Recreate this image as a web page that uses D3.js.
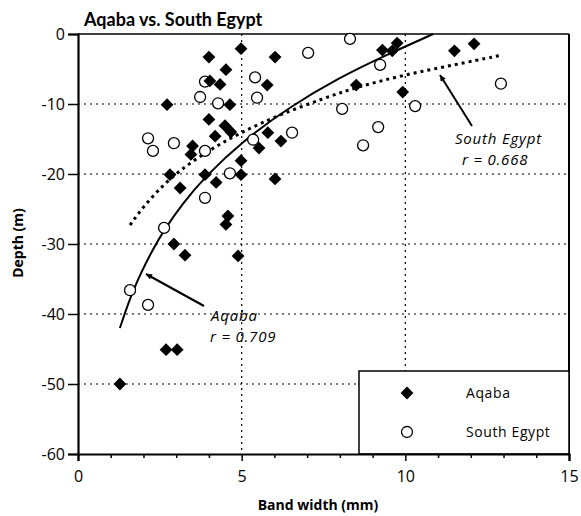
<!DOCTYPE html>
<html>
<head>
<meta charset="utf-8">
<script src="https://cdn.jsdelivr.net/npm/d3@7"></script>
<style>
  body { margin: 0; background: #fff; }
  text { font-family: "Open Sans", sans-serif; fill: #000; }
</style>
</head>
<body>
<svg width="581" height="516"></svg>
<script>
// data: [band width (mm), depth (m)]
var aqaba = [
  [4.98, -2.1], [4.0, -3.3], [6.02, -3.3], [4.52, -5.1], [4.03, -6.7],
  [4.34, -7.2], [5.78, -7.3], [2.72, -10.1], [4.64, -10.1], [4.0, -12.2],
  [4.49, -13.1], [4.67, -14.0], [4.19, -14.6], [3.5, -16.0], [3.45, -17.2],
  [4.98, -18.1], [5.8, -14.1], [5.53, -16.3], [6.2, -15.3], [8.5, -7.3],
  [9.92, -8.3], [9.3, -2.3], [9.6, -2.4], [9.75, -1.3], [11.5, -2.4],
  [12.1, -1.4], [2.81, -20.1], [3.88, -20.1], [4.98, -20.1], [3.12, -22.0],
  [4.22, -21.2], [4.58, -26.0], [4.52, -27.2], [2.93, -30.0], [3.27, -31.6],
  [4.89, -31.7], [6.02, -20.7], [2.69, -45.1], [3.03, -45.1], [1.28, -50.0]
];

var southEgypt = [
  [8.31, -0.7], [7.03, -2.7], [5.41, -6.2], [5.47, -9.1], [9.23, -4.4],
  [8.07, -10.7], [9.17, -13.3], [8.71, -15.9], [6.54, -14.1], [10.3, -10.3],
  [12.92, -7.1], [3.73, -9.0], [4.28, -9.9], [3.88, -6.8], [2.14, -14.9],
  [2.29, -16.7], [2.93, -15.6], [3.88, -16.7], [4.64, -19.9], [3.88, -23.4],
  [2.63, -27.7], [2.14, -38.7], [1.59, -36.6], [5.35, -15.1]
];

// fitted curves
var aqabaFit = [
  [1.28, -42], [1.68, -36.4], [2.3, -30.6], [2.63, -28], [3.2, -24.2],
  [3.88, -20.4], [5, -15.4], [6.5, -10.3], [8, -6.2], [9.23, -3.4], [10.85, 0]
];
var egyptFit = [
  [1.59, -27.3], [2.0, -24.6], [2.87, -20.2], [4, -16.6], [5, -14],
  [6.17, -11.5], [7.5, -9.2], [8.5, -7.6], [10, -5.8], [11.5, -4.4], [12.86, -3.1]
];

var xTicks = [0, 5, 10, 15],
    xMinor = [1, 2, 3, 4, 6, 7, 8, 9, 11, 12, 13, 14],
    yTicks = [0, -10, -20, -30, -40, -50, -60],
    xGrid = [5, 10],
    yGrid = [-10, -20, -30, -40, -50];

var svg = d3.select("svg");

var x = d3.scaleLinear().domain([0, 15]).range([78, 569]),
    y = d3.scaleLinear().domain([-60, 0]).range([454, 34]);

// grid lines
svg.append("g").selectAll("line")
    .data(yGrid)
    .enter().append("line")
    .attr("x1", x(0)).attr("x2", x(15))
    .attr("y1", function(d) { return y(d); })
    .attr("y2", function(d) { return y(d); })
    .attr("stroke", "#000").attr("stroke-width", 1.2)
    .attr("stroke-dasharray", "2,4");

svg.append("g").selectAll("line")
    .data(xGrid)
    .enter().append("line")
    .attr("x1", function(d) { return x(d); })
    .attr("x2", function(d) { return x(d); })
    .attr("y1", y(0)).attr("y2", y(-60))
    .attr("stroke", "#000").attr("stroke-width", 1.2)
    .attr("stroke-dasharray", "2,4");

// frame top and right
svg.append("line")
    .attr("x1", x(0)).attr("x2", x(15)).attr("y1", y(0)).attr("y2", y(0))
    .attr("stroke", "#000").attr("stroke-width", 1.5);
svg.append("line")
    .attr("x1", x(15)).attr("x2", x(15)).attr("y1", y(0)).attr("y2", y(-60))
    .attr("stroke", "#000").attr("stroke-width", 2);

// legend box (drawn before points, covers grid)
var legend = svg.append("g");
legend.append("rect")
    .attr("x", 359).attr("y", 371).attr("width", x(15) - 359).attr("height", y(-60) - 371)
    .attr("fill", "#fff").attr("stroke", "#000").attr("stroke-width", 1.5);

// axes
var fmt = function(d) { return String(d); };   // plain hyphen minus, as printed

svg.append("g")
    .attr("transform", "translate(0," + y(-60) + ")")
    .call(d3.axisBottom(x).tickValues(xTicks).tickSize(7).tickPadding(10).tickFormat(fmt));
svg.append("g")
    .attr("transform", "translate(0," + y(-60) + ")")
    .call(d3.axisBottom(x).tickValues(xMinor).tickSize(4).tickFormat(""))
    .call(function(g) { g.select(".domain").remove(); });

svg.append("g")
    .attr("transform", "translate(" + x(0) + ",0)")
    .call(d3.axisLeft(y).tickValues(yTicks).tickSize(10).tickPadding(3).tickFormat(fmt));

svg.selectAll(".domain").attr("stroke-width", 2.2);
svg.selectAll(".tick line").attr("stroke-width", 1.5);
svg.selectAll(".tick text")
    .style("font-family", "'Open Sans', sans-serif")
    .style("font-size", "16px");

// fitted curves
var line = d3.line()
    .x(function(d) { return x(d[0]); })
    .y(function(d) { return y(d[1]); })
    .curve(d3.curveBasis);

svg.append("path")
    .datum(aqabaFit)
    .attr("d", line)
    .attr("fill", "none").attr("stroke", "#000").attr("stroke-width", 2);

svg.append("path")
    .datum(egyptFit)
    .attr("d", line)
    .attr("fill", "none").attr("stroke", "#000").attr("stroke-width", 3)
    .attr("stroke-dasharray", "3,4");

// points
var diamond = d3.symbol().type(d3.symbolSquare).size(82);

svg.append("g").selectAll("circle")
    .data(southEgypt)
    .enter().append("circle")
    .attr("cx", function(d) { return x(d[0]); })
    .attr("cy", function(d) { return y(d[1]); })
    .attr("r", 5.5)
    .attr("fill", "#fff").attr("stroke", "#000").attr("stroke-width", 1.3);

svg.append("g").selectAll("path")
    .data(aqaba)
    .enter().append("path")
    .attr("d", diamond)
    .attr("transform", function(d) {
        return "translate(" + x(d[0]) + "," + y(d[1]) + ") rotate(45)";
    })
    .attr("fill", "#000");

// legend entries
legend.append("path")
    .attr("d", diamond)
    .attr("transform", "translate(407,393) rotate(45)")
    .attr("fill", "#000");
legend.append("circle")
    .attr("cx", 407).attr("cy", 432).attr("r", 5.5)
    .attr("fill", "#fff").attr("stroke", "#000").attr("stroke-width", 1.3);
legend.append("text")
    .attr("x", 466).attr("y", 398)
    .style("font-size", "14px").style("letter-spacing", "0.6px")
    .text("Aqaba");
legend.append("text")
    .attr("x", 466).attr("y", 437)
    .style("font-size", "14px").style("letter-spacing", "0.6px")
    .text("South Egypt");

// annotations
svg.append("defs").append("marker")
    .attr("id", "arrow")
    .attr("viewBox", "0 0 10 10")
    .attr("refX", 10).attr("refY", 5)
    .attr("markerWidth", 7).attr("markerHeight", 6)
    .attr("markerUnits", "userSpaceOnUse")
    .attr("orient", "auto")
    .append("path")
    .attr("d", "M0,0L10,5L0,10z")
    .attr("fill", "#000");

svg.append("line")
    .attr("x1", 472).attr("y1", 126).attr("x2", 440).attr("y2", 75)
    .attr("stroke", "#000").attr("stroke-width", 2)
    .attr("marker-end", "url(#arrow)");
svg.append("line")
    .attr("x1", 204).attr("y1", 306).attr("x2", 146).attr("y2", 274)
    .attr("stroke", "#000").attr("stroke-width", 2)
    .attr("marker-end", "url(#arrow)");

var notes = [
  { x: 455, y: 144, t: "South Egypt" },
  { x: 462, y: 165, t: "r = 0.668" },
  { x: 211, y: 321, t: "Aqaba" },
  { x: 210, y: 342, t: "r = 0.709" }
];
svg.append("g").selectAll("text")
    .data(notes)
    .enter().append("text")
    .attr("x", function(d) { return d.x; })
    .attr("y", function(d) { return d.y; })
    .style("font-size", "15px")
    .style("font-style", "italic")
    .style("letter-spacing", "0.8px")
    .text(function(d) { return d.t; });

// titles
svg.append("text")
    .attr("x", 84).attr("y", 26)
    .style("font-family", "Lato, sans-serif")
    .style("font-size", "18px").style("font-weight", "bold")
    .text("Aqaba vs. South Egypt");

svg.append("text")
    .attr("x", 318).attr("y", 510)
    .attr("text-anchor", "middle")
    .style("font-size", "14px").style("font-weight", "bold")
    .text("Band width (mm)");

svg.append("text")
    .attr("transform", "translate(23,243) rotate(-90)")
    .attr("text-anchor", "middle")
    .style("font-size", "14px").style("font-weight", "bold")
    .text("Depth (m)");
</script>
</body>
</html>
